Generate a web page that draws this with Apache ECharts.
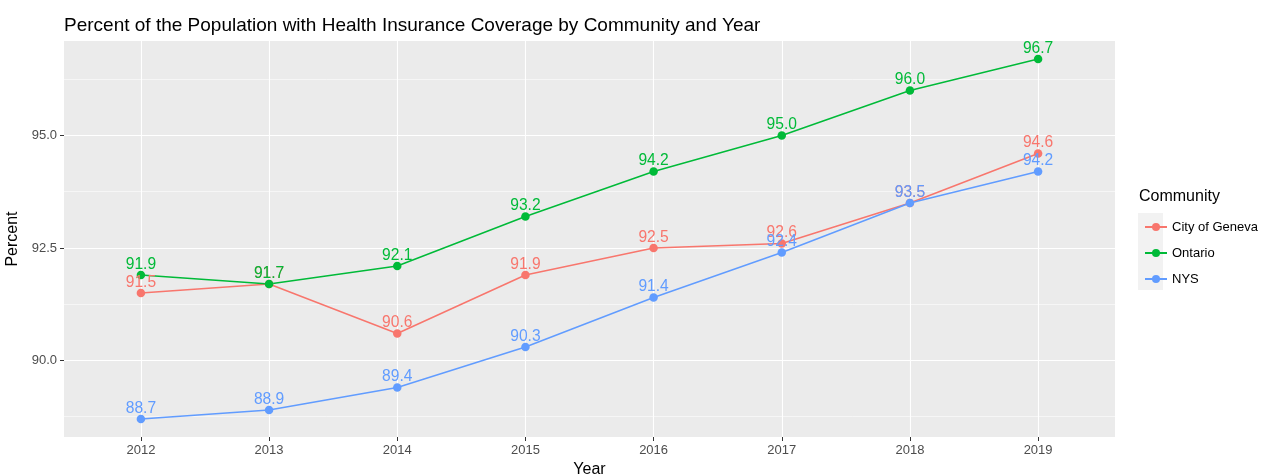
<!DOCTYPE html>
<html><head><meta charset="utf-8">
<script src="https://cdn.jsdelivr.net/npm/echarts@6/dist/echarts.min.js"></script>
<style>html,body{margin:0;padding:0;background:#fff}#c{width:1270px;height:475px}</style>
</head><body><div id="c"></div>
<script>
const years = [2012, 2013, 2014, 2015, 2016, 2017, 2018, 2019];
const geneva = [91.5, 91.7, 90.6, 91.9, 92.5, 92.6, 93.5, 94.6];
const ontario = [91.9, 91.7, 92.1, 93.2, 94.2, 95.0, 96.0, 96.7];
const nys = [88.7, 88.9, 89.4, 90.3, 91.4, 92.4, 93.5, 94.2];
const yTicks = [90, 92.5, 95];
const yMinor = [88.75, 91.25, 93.75, 96.25];
const seriesNames = ['City of Geneva', 'Ontario', 'NYS'];
const colors = ['#F8766D', '#00BA38', '#619CFF'];
const FONT = '"Liberation Sans", Arial, sans-serif';

const chart = echarts.init(document.getElementById('c'));
function mk(name, vals, color) {
  return {
    name: name, type: 'line', xAxisIndex: 0, yAxisIndex: 0,
    data: years.map((y, i) => [y, vals[i]]),
    symbol: 'circle', symbolSize: 8.5,
    itemStyle: { color: color },
    lineStyle: { color: color, width: 1.5 },
    label: { show: true, position: 'top', distance: -1.5, color: color, fontSize: 15.6, fontFamily: FONT,
      formatter: p => p.value[1].toFixed(1) },
    emphasis: { disabled: true },
    animation: false
  };
}
chart.setOption({
  animation: false,
  textStyle: { fontFamily: FONT },
  title: { text: 'Percent of the Population with Health Insurance Coverage by Community and Year',
    left: 59, top: 11, textStyle: { fontSize: 19, fontWeight: 'normal', color: '#000', fontFamily: FONT } },
  grid: { left: 64, right: 155, top: 41, bottom: 38, show: true, backgroundColor: '#EBEBEB', borderWidth: 0,
    containLabel: false, outerBoundsMode: 'none' },
  xAxis: [{ type: 'value', min: 2011.4, max: 2019.6,
    name: 'Year', nameLocation: 'middle', nameGap: 21, nameTextStyle: { fontSize: 16, color: '#000' },
    axisLine: { show: false },
    axisTick: { show: true, customValues: years, length: 4, lineStyle: { color: '#333' } },
    axisLabel: { customValues: years, color: '#4D4D4D', fontSize: 13, margin: 7, formatter: v => String(v) },
    splitLine: { show: true, lineStyle: { color: '#fff', width: 1.1 } } }],
  yAxis: [{ type: 'value', min: 88.3, max: 97.1,
    name: 'Percent', nameLocation: 'middle', nameGap: 36, nameRotate: 90, nameTextStyle: { fontSize: 16, color: '#000' },
    axisLine: { show: false },
    axisTick: { show: true, customValues: yTicks, length: 4, lineStyle: { color: '#333' } },
    axisLabel: { customValues: yTicks, color: '#4D4D4D', fontSize: 13, margin: 7, formatter: v => v.toFixed(1) },
    splitLine: { show: true, lineStyle: { color: '#fff', width: 1.1 } } },
    { type: 'value', min: 88.3, max: 97.1, position: 'left',
    axisLine: { show: false }, axisTick: { show: false, customValues: yMinor },
    axisLabel: { show: false, customValues: yMinor },
    splitLine: { show: true, lineStyle: { color: '#fff', width: 0.55 } } }],
  legend: { orient: 'vertical', left: 1139, top: 215, itemWidth: 22, itemHeight: 10, itemGap: 12,
    data: seriesNames, textStyle: { fontSize: 13, lineHeight: 14, color: '#000', fontFamily: FONT }, selectedMode: false },
  graphic: [
    { type: 'text', left: 1139, top: 189, style: { text: 'Community', fontSize: 16, fill: '#000', fontFamily: FONT } },
    { type: 'rect', shape: { x: 1138, y: 213, width: 25, height: 77 }, style: { fill: '#F2F2F2' }, z: -1 }
  ],
  series: [mk(seriesNames[0], geneva, colors[0]), mk(seriesNames[1], ontario, colors[1]), mk(seriesNames[2], nys, colors[2])]
});
</script></body></html>
